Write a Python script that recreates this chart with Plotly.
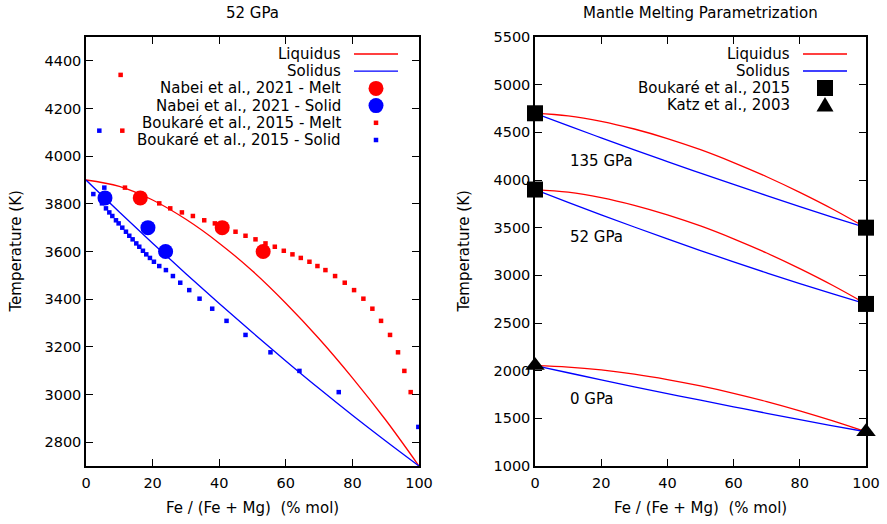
import plotly.graph_objects as go

# ---------------------------------------------------------------------------
# Data
# ---------------------------------------------------------------------------
# Composition grid (% mol Fe / (Fe + Mg)) for the melting curves
FE_PCT = [0, 10, 20, 30, 40, 50, 60, 70, 80, 90, 100]

# 52 GPa liquidus / solidus (K)
LIQ_52 = [3900, 3873, 3816, 3735, 3635, 3518, 3383, 3234, 3070, 2893, 2700]
SOL_52 = [3900, 3766, 3635, 3507, 3382, 3260, 3141, 3025, 2913, 2805, 2700]

# 135 GPa liquidus / solidus (K)
LIQ_135 = [4700, 4673, 4616, 4535, 4435, 4318, 4183, 4034, 3870, 3693, 3500]
SOL_135 = [4700, 4570, 4442, 4316, 4193, 4072, 3953, 3836, 3721, 3609, 3500]

# 0 GPa liquidus / solidus (K)
LIQ_0 = [2053, 2038, 2008, 1964, 1907, 1840, 1763, 1676, 1579, 1473, 1359]
SOL_0 = [2053, 1978, 1904, 1831, 1760, 1690, 1621, 1553, 1486, 1421, 1359]

# Nabei et al., 2021 coexisting melt / solid at 52 GPa
NABEI_T = [3825, 3700, 3600]
NABEI_MELT_FE = [16.3, 40.9, 53.2]
NABEI_SOLID_FE = [5.7, 18.6, 23.9]

# Boukaré et al., 2015 melt compositions at 52 GPa
BOUK_MELT_FE = [10.4, 10.9, 11.7, 22.0, 25.3, 28.8, 32.1, 35.5, 38.7, 41.8,
                44.9, 47.9, 50.9, 53.9, 56.7, 59.4, 62.0, 64.5, 67.1, 69.5,
                71.9, 74.8, 77.7, 80.5, 83.3, 86.0, 88.6, 91.3, 93.7, 95.6,
                97.5]
BOUK_MELT_T = [4341, 4107, 3868, 3802, 3781, 3764, 3749, 3731, 3718, 3700,
               3683, 3666, 3651, 3634, 3620, 3603, 3588, 3573, 3557, 3539,
               3522, 3497, 3469, 3438, 3402, 3360, 3309, 3250, 3177, 3099,
               3010]

# Boukaré et al., 2015 solid compositions at 52 GPa
BOUK_SOLID_FE = [4.0, 2.2, 5.5, 4.8, 6.0, 7.0, 7.9, 9.0, 9.8, 10.9, 12.0,
                 13.0, 14.0, 15.1, 16.0, 17.1, 18.1, 19.2, 20.4, 22.0, 24.0,
                 26.1, 28.3, 31.0, 34.1, 37.9, 42.2, 47.9, 55.4, 64.1, 75.9,
                 99.8]
BOUK_SOLID_T = [4107, 3841, 3868, 3802, 3781, 3764, 3749, 3731, 3718, 3700,
                3683, 3666, 3651, 3634, 3620, 3603, 3588, 3573, 3557, 3539,
                3522, 3497, 3469, 3438, 3402, 3360, 3309, 3250, 3177, 3099,
                3010, 2864]

# End-member anchors used by the parametrization
BOUK_END_FE = [0, 100, 0, 100]
BOUK_END_T = [4700, 3500, 3900, 2700]
KATZ_END_FE = [0, 100]
KATZ_END_T = [2053, 1359]

# Pressure labels on the parametrization panel
P_LABELS = ["135 GPa", "52 GPa", "0 GPa"]
P_LABEL_X = [10, 10, 10]
P_LABEL_T = [4200, 3400, 1700]

# ---------------------------------------------------------------------------
# Styling / layout helpers
# ---------------------------------------------------------------------------
W, H = 887, 524
RED, BLUE, BLACK = "#ff0000", "#0000ff", "#000000"
FONT = "DejaVu Sans"
FS = 15          # titles, labels, key text
FS_TICK = 14.5   # tick labels


def px(x):
    return x / W


def py(y):
    return 1 - y / H


fig = go.Figure()


def curve(x, y, color, xa, ya):
    fig.add_trace(go.Scatter(x=x, y=y, mode="lines",
                             line=dict(color=color, width=1.3, shape="spline", smoothing=1.0),
                             xaxis=xa, yaxis=ya, showlegend=False, hoverinfo="skip"))


def points(x, y, color, symbol, size, xa, ya):
    fig.add_trace(go.Scatter(x=x, y=y, mode="markers",
                             marker=dict(color=color, symbol=symbol, size=size, line=dict(width=0)),
                             xaxis=xa, yaxis=ya, showlegend=False, cliponaxis=False))


# Left panel: 52 GPa
curve(FE_PCT, LIQ_52, RED, "x", "y")
curve(FE_PCT, SOL_52, BLUE, "x", "y")
points(NABEI_MELT_FE, NABEI_T, RED, "circle", 15, "x", "y")
points(NABEI_SOLID_FE, NABEI_T, BLUE, "circle", 15, "x", "y")
points(BOUK_MELT_FE, BOUK_MELT_T, RED, "square", 4.5, "x", "y")
points(BOUK_SOLID_FE, BOUK_SOLID_T, BLUE, "square", 4.5, "x", "y")

# Right panel: parametrization at three pressures
for liq, sol in ((LIQ_135, SOL_135), (LIQ_52, SOL_52), (LIQ_0, SOL_0)):
    curve(FE_PCT, liq, RED, "x2", "y2")
    curve(FE_PCT, sol, BLUE, "x2", "y2")
points(BOUK_END_FE, BOUK_END_T, BLACK, "square", 16, "x2", "y2")
points(KATZ_END_FE, KATZ_END_T, BLACK, "triangle-up", 17, "x2", "y2")

axis_common = dict(showline=True, linecolor="black", linewidth=1.5, mirror="allticks",
                   ticks="inside", ticklen=7, tickwidth=1.2, tickcolor="black",
                   showgrid=False, zeroline=False, automargin=False,
                   tickfont=dict(family=FONT, size=FS_TICK, color="black"))

L_X0, L_X1 = 86, 419
R_X0, R_X1 = 535, 866
Y_TOP, Y_BOT = 37, 466

fig.update_layout(
    template="none",
    width=W, height=H, margin=dict(l=0, r=0, t=0, b=0, autoexpand=False),
    paper_bgcolor="white", plot_bgcolor="white", showlegend=False,
    font=dict(family=FONT, size=FS, color="black"),
    xaxis=dict(domain=[px(L_X0), px(L_X1)], range=[0, 100], tick0=0, dtick=20,
               anchor="y", ticklabelstandoff=3, **axis_common),
    yaxis=dict(domain=[py(Y_BOT), py(Y_TOP)], range=[2700, 4500], tick0=2800, dtick=200,
               anchor="x", **axis_common),
    xaxis2=dict(domain=[px(R_X0), px(R_X1)], range=[0, 100], tick0=0, dtick=20,
                anchor="y2", ticklabelstandoff=3, **axis_common),
    yaxis2=dict(domain=[py(Y_BOT), py(Y_TOP)], range=[1000, 5500], tick0=1000, dtick=500,
                anchor="x2", **axis_common),
)

ann = []
shapes = []

# Panel titles and axis titles
xlabel = "Fe / (Fe + Mg)\u00a0\u00a0(% mol)"
for cx, title in (((L_X0 + L_X1) / 2, "52 GPa"), ((R_X0 + R_X1) / 2, "Mantle Melting Parametrization")):
    ann.append(dict(x=px(cx), y=py(13), xref="paper", yref="paper", text=title,
                    showarrow=False, xanchor="center", yanchor="middle", font=dict(size=FS)))
    ann.append(dict(x=px(cx), y=py(508), xref="paper", yref="paper", text=xlabel,
                    showarrow=False, xanchor="center", yanchor="middle", font=dict(size=FS)))
for cx in (15, 463):
    ann.append(dict(x=px(cx), y=py((Y_TOP + Y_BOT) / 2), xref="paper", yref="paper",
                    text="Temperature (K)", textangle=-90, showarrow=False,
                    xanchor="center", yanchor="middle", font=dict(size=FS)))

# Pressure labels
for t, x, y in zip(P_LABELS, P_LABEL_X, P_LABEL_T):
    ann.append(dict(x=x, y=y, xref="x2", yref="y2", text=t, showarrow=False,
                    xanchor="left", yanchor="middle", font=dict(size=FS)))


# Key boxes (text right-aligned, sample to the right)
def key_entry(text_right, sample_x0, sample_x1, y, label, kind, color, size=0):
    ann.append(dict(x=px(text_right), y=py(y), xref="paper", yref="paper", text=label,
                    showarrow=False, xanchor="right", yanchor="middle", font=dict(size=FS)))
    cx = (sample_x0 + sample_x1) / 2
    r = size / 2
    if kind == "line":
        shapes.append(dict(type="line", xref="paper", yref="paper",
                           x0=px(sample_x0), x1=px(sample_x1), y0=py(y), y1=py(y),
                           line=dict(color=color, width=1.3)))
    elif kind == "circle":
        shapes.append(dict(type="circle", xref="paper", yref="paper",
                           x0=px(cx - r), x1=px(cx + r), y0=py(y + r), y1=py(y - r),
                           fillcolor=color, line=dict(width=0)))
    elif kind == "square":
        shapes.append(dict(type="rect", xref="paper", yref="paper",
                           x0=px(cx - r), x1=px(cx + r), y0=py(y + r), y1=py(y - r),
                           fillcolor=color, line=dict(width=0)))
    elif kind == "triangle":
        path = "M {} {} L {} {} L {} {} Z".format(
            px(cx - r), py(y + r * 0.75), px(cx + r), py(y + r * 0.75), px(cx), py(y - r * 0.95))
        shapes.append(dict(type="path", xref="paper", yref="paper", path=path,
                           fillcolor=color, line=dict(width=0)))


left_keys = [
    ("Liquidus", "line", RED, 0),
    ("Solidus", "line", BLUE, 0),
    ("Nabei et al., 2021 - Melt", "circle", RED, 15),
    ("Nabei et al., 2021 - Solid", "circle", BLUE, 15),
    ("Boukaré et al., 2015 - Melt", "square", RED, 4.5),
    ("Boukaré et al., 2015 - Solid", "square", BLUE, 4.5),
]
for i, (lab, kind, col, sz) in enumerate(left_keys):
    key_entry(343, 354, 398, 54 + i * 17.2, lab, kind, col, sz)

right_keys = [
    ("Liquidus", "line", RED, 0),
    ("Solidus", "line", BLUE, 0),
    ("Boukaré et al., 2015", "square", BLACK, 16),
    ("Katz et al., 2003", "triangle", BLACK, 17),
]
for i, (lab, kind, col, sz) in enumerate(right_keys):
    key_entry(792, 803, 847, 54 + i * 17.0, lab, kind, col, sz)

fig.update_layout(annotations=ann, shapes=shapes)
fig.write_html("out.html")
